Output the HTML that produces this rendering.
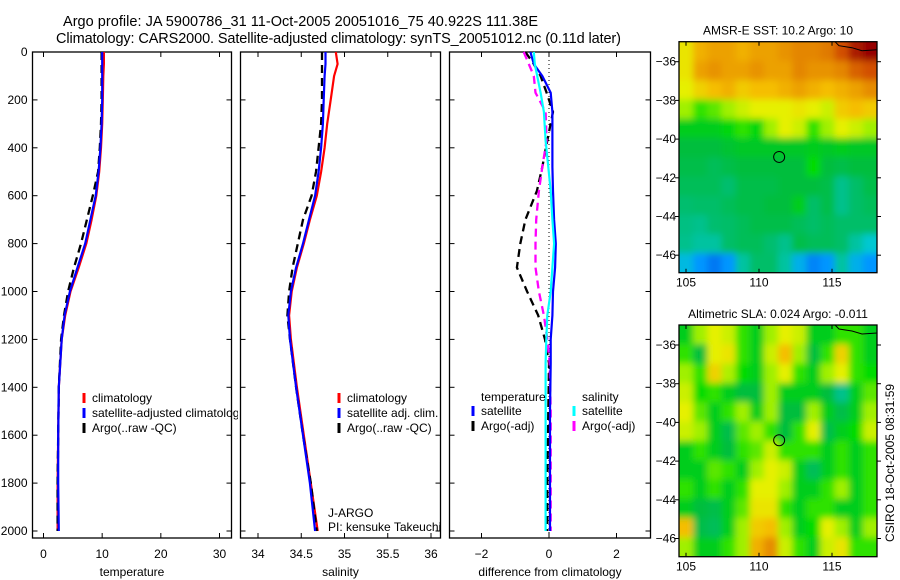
<!DOCTYPE html>
<html><head><meta charset="utf-8">
<style>
html,body{margin:0;padding:0;background:#fff;}
svg{display:block;font-family:"Liberation Sans",sans-serif;}
text{fill:#000;}
</style></head>
<body>
<svg id="fig" width="900" height="580" viewBox="0 0 900 580" xmlns="http://www.w3.org/2000/svg">
<defs>
<filter id="blur" x="-10%" y="-10%" width="120%" height="120%"><feGaussianBlur stdDeviation="3.5"/></filter>
</defs>
<text x="63" y="26" font-size="14.5" textLength="475">Argo profile: JA 5900786_31 11-Oct-2005 20051016_75 40.922S 111.38E</text>
<text x="56" y="43" font-size="14.5" textLength="565">Climatology: CARS2000. Satellite-adjusted climatology: synTS_20051012.nc (0.11d later)</text>
</svg>
<script>
// ---------- data ----------
const depths = [0,50,100,200,300,400,500,600,700,800,900,1000,1100,1200,1400,1600,1800,2000];
const tempClim = [10.3,10.3,10.2,10.1,10.0,9.8,9.5,9.0,8.2,7.3,6.0,4.6,3.7,3.1,2.6,2.5,2.4,2.4];
const tempSat  = [10.0,10.0,10.0,10.0,9.9,9.7,9.4,8.9,8.0,7.1,5.8,4.5,3.6,3.1,2.6,2.5,2.5,2.6];
const tempArgo = [9.9,9.9,9.9,9.9,9.8,9.6,9.3,8.4,7.4,6.4,5.2,4.2,3.5,3.0,2.6,2.5,2.4,2.4];
const salClim = [34.90,34.92,34.88,34.84,34.80,34.77,34.73,34.68,34.60,34.53,34.45,34.39,34.36,34.38,34.45,34.53,34.61,34.69];
const salSat  = [34.78,34.78,34.77,34.76,34.75,34.73,34.70,34.66,34.59,34.52,34.44,34.38,34.35,34.37,34.44,34.52,34.60,34.66];
const salArgo = [34.74,34.74,34.74,34.74,34.73,34.70,34.67,34.62,34.52,34.46,34.40,34.36,34.34,34.37,34.44,34.52,34.61,34.68];
const diffDepths = [0,50,100,170,250,370,480,580,700,800,900,1000,1100,1200,1300,1500,1800,2000];
const diffTempSat  = [-0.55,-0.45,-0.2,0.05,0.1,0.1,0.1,0.12,0.15,0.2,0.18,0.12,0.1,0.05,0.05,0.03,0.03,0.03];
const diffTempArgo = [-0.7,-0.45,-0.25,-0.07,0.12,-0.05,-0.2,-0.36,-0.7,-0.85,-0.95,-0.65,-0.32,-0.12,0,-0.02,-0.05,-0.05];
const diffSalSat   = [-0.45,-0.42,-0.35,-0.25,-0.15,-0.1,-0.02,0.05,0.1,0.15,0.1,0.05,-0.05,-0.08,-0.1,-0.1,-0.1,-0.1];
const diffSalArgo  = [-0.75,-0.6,-0.45,-0.4,-0.1,-0.07,-0.2,-0.3,-0.38,-0.4,-0.4,-0.3,-0.15,-0.05,0.02,0.05,0.05,0.05];
const depthTicks = [0,200,400,600,800,1000,1200,1400,1600,1800,2000];
const tempTicks = [0,10,20,30];
const salTicks = [34,34.5,35,35.5,36];
const diffTicks = [-2,0,2];
const lonTicks = [105,110,115];
const latTicks = [-36,-38,-40,-42,-44,-46];
const argoLon = 111.38, argoLat = -40.922;
const sstGrid = [
[0.62,0.7,0.72,0.72,0.7,0.72,0.72,0.74,0.76,0.76,0.78,0.85,0.95,1],
[0.62,0.72,0.74,0.72,0.72,0.74,0.72,0.72,0.76,0.74,0.74,0.76,0.82,0.85],
[0.6,0.65,0.68,0.7,0.66,0.68,0.68,0.7,0.72,0.7,0.68,0.7,0.72,0.75],
[0.55,0.5,0.52,0.55,0.58,0.6,0.6,0.6,0.62,0.6,0.58,0.66,0.68,0.66],
[0.45,0.45,0.45,0.47,0.5,0.47,0.55,0.6,0.58,0.5,0.55,0.6,0.58,0.55],
[0.42,0.42,0.42,0.43,0.44,0.44,0.44,0.44,0.44,0.45,0.44,0.45,0.44,0.44],
[0.4,0.4,0.38,0.4,0.42,0.42,0.42,0.42,0.42,0.48,0.42,0.4,0.42,0.42],
[0.38,0.38,0.38,0.35,0.4,0.4,0.4,0.42,0.42,0.42,0.4,0.32,0.36,0.4],
[0.35,0.36,0.36,0.38,0.4,0.4,0.42,0.42,0.45,0.36,0.4,0.32,0.36,0.38],
[0.33,0.32,0.35,0.36,0.38,0.4,0.4,0.4,0.38,0.36,0.38,0.36,0.36,0.36],
[0.32,0.3,0.3,0.36,0.38,0.38,0.35,0.32,0.4,0.38,0.38,0.36,0.3,0.25],
[0.22,0.15,0.1,0.15,0.3,0.36,0.36,0.3,0.2,0.12,0.15,0.3,0.2,0.15]];
const slaGrid = [
[0.45,0.55,0.6,0.58,0.5,0.45,0.55,0.6,0.58,0.45,0.45,0.5,0.5,0.45],
[0.5,0.42,0.6,0.62,0.5,0.45,0.58,0.68,0.55,0.42,0.5,0.65,0.5,0.45],
[0.55,0.5,0.65,0.56,0.48,0.45,0.55,0.6,0.5,0.45,0.55,0.6,0.5,0.48],
[0.58,0.48,0.5,0.45,0.42,0.42,0.55,0.45,0.45,0.45,0.42,0.32,0.45,0.52],
[0.6,0.52,0.45,0.5,0.55,0.45,0.55,0.42,0.42,0.55,0.45,0.4,0.45,0.55],
[0.58,0.55,0.45,0.4,0.52,0.55,0.5,0.42,0.5,0.6,0.4,0.45,0.48,0.58],
[0.45,0.5,0.45,0.42,0.5,0.52,0.58,0.5,0.5,0.5,0.45,0.5,0.45,0.5],
[0.45,0.45,0.52,0.5,0.45,0.55,0.6,0.58,0.45,0.38,0.45,0.5,0.45,0.5],
[0.5,0.45,0.5,0.45,0.5,0.6,0.6,0.55,0.45,0.45,0.5,0.55,0.45,0.5],
[0.45,0.42,0.4,0.45,0.52,0.62,0.62,0.5,0.45,0.5,0.5,0.45,0.45,0.5],
[0.68,0.4,0.38,0.45,0.55,0.66,0.68,0.55,0.45,0.48,0.6,0.55,0.45,0.55],
[0.55,0.45,0.45,0.5,0.55,0.7,0.75,0.58,0.5,0.45,0.58,0.62,0.5,0.5]];

// ---------- helpers ----------
const NS = "http://www.w3.org/2000/svg";
const svg = document.getElementById('fig');
function mk(tag, attrs, parent){
  const e = document.createElementNS(NS, tag);
  for (const k in attrs) e.setAttribute(k, attrs[k]);
  (parent||svg).appendChild(e);
  return e;
}
const PT = 52, PB = 538;
const yDepth = d => PT + d * 0.2395;
function linScale(d0,d1,r0,r1){ return v => r0 + (v-d0)/(d1-d0)*(r1-r0); }

const cstops = [[0,[0,60,220]],[0.15,[0,150,255]],[0.25,[0,200,210]],[0.35,[0,190,110]],[0.42,[0,190,60]],[0.48,[0,220,0]],[0.55,[160,240,0]],[0.6,[230,240,0]],[0.68,[245,190,0]],[0.75,[230,140,0]],[0.85,[210,80,0]],[1,[150,0,0]]];
function cmap(v){
  for (let i=1;i<cstops.length;i++){
    if (v<=cstops[i][0]){
      const [a,ca]=cstops[i-1],[b,cb]=cstops[i];
      const t=(v-a)/(b-a);
      return 'rgb('+ca.map((c,j)=>Math.round(c+(cb[j]-c)*t)).join(',')+')';
    }
  }
  return 'rgb(150,0,0)';
}

function drawPanel(name, x0, x1, xs, ticks, tickFmt, xlabel, showY){
  const g = mk('g', {});
  
  
  const fr = mk('rect', {x:x0, y:PT, width:x1-x0, height:PB-PT, fill:'none', stroke:'#000', 'stroke-width':1.3}, g);
  
  
  ticks.forEach(t => {
    const x = xs(t);
    mk('line',{x1:x,y1:PT,x2:x,y2:PT+5,stroke:'#000'},g);
    mk('line',{x1:x,y1:PB,x2:x,y2:PB-5,stroke:'#000'},g);
    const tl = mk('text',{x:x,y:PB+20,'font-size':12,'text-anchor':'middle'},g);
    tl.textContent = tickFmt(t);
    
    
  });
  depthTicks.forEach(d => {
    const y = yDepth(d);
    mk('line',{x1:x0,y1:y,x2:x0+5,y2:y,stroke:'#000'},g);
    mk('line',{x1:x1,y1:y,x2:x1-5,y2:y,stroke:'#000'},g);
    if (showY){
      const yl = mk('text',{x:x0-5,y:y+4,'font-size':12,'text-anchor':'end'},g);
      yl.textContent = d;
      
      
    }
  });
  const xl = mk('text',{x:(x0+x1)/2,y:576,'font-size':12,'text-anchor':'middle'},g);
  xl.textContent = xlabel;
  
  
  return g;
}
function drawLine(g, name, xs, vals, ds, color, dash, w){
  const pts = vals.map((v,i)=> xs(v).toFixed(1)+','+yDepth(ds[i]).toFixed(1)).join(' ');
  const a = {points:pts, fill:'none', stroke:color, 'stroke-width':w||2.2, 'stroke-linejoin':'round'};
  if (dash) a['stroke-dasharray'] = dash;
  const p = mk('polyline', a, g);
  
  
}
function legendEntry(g, name, x, y, color, label){
  const m = mk('line',{x1:x,y1:y-9,x2:x,y2:y+1,stroke:color,'stroke-width':3},g);
  
  
  const t = mk('text',{x:x+8,y:y,'font-size':12},g);
  t.textContent = label;
  
  
}

// ---------- panel 1: temperature ----------
const xT = linScale(0,30,43.5,219.5);
const g1 = drawPanel('temperature', 32.5, 231.5, xT, tempTicks, t=>t, 'temperature', true);
drawLine(g1,'temperature-climatology-line',xT,tempClim,depths,'#f00');
drawLine(g1,'temperature-argo-line',xT,tempArgo,depths,'#000','8,5',2.3);
drawLine(g1,'temperature-satellite-line',xT,tempSat,depths,'#00f');
const clip1 = mk('clipPath',{id:'c1'}); mk('rect',{x:0,y:0,width:238,height:580},clip1);
const lg1 = mk('g',{'clip-path':'url(#c1)'},g1);


legendEntry(lg1,'legend-climatology',84,402,'#f00','climatology');
legendEntry(lg1,'legend-satellite-adjusted',84,417,'#00f','satellite-adjusted climatology');
legendEntry(lg1,'legend-argo',84,432,'#000','Argo(..raw -QC)');

// ---------- panel 2: salinity ----------
const xS = linScale(34,36,258,431);
const g2 = drawPanel('salinity', 240.5, 440.5, xS, salTicks, t=>t, 'salinity', false);
drawLine(g2,'salinity-climatology-line',xS,salClim,depths,'#f00');
drawLine(g2,'salinity-argo-line',xS,salArgo,depths,'#000','8,5',2.3);
drawLine(g2,'salinity-satellite-line',xS,salSat,depths,'#00f');
legendEntry(g2,'legend-sal-climatology',339,402,'#f00','climatology');
legendEntry(g2,'legend-sal-satellite',339,417,'#00f','satellite adj. clim.');
legendEntry(g2,'legend-sal-argo',339,432,'#000','Argo(..raw -QC)');
const j1 = mk('text',{x:328,y:517,'font-size':12},g2); j1.textContent='J-ARGO';


const j2 = mk('text',{x:328,y:531,'font-size':12},g2); j2.textContent='PI: kensuke Takeuchi';



// ---------- panel 3: difference ----------
const xD = linScale(-2,2,481.5,616.5);
const g3 = drawPanel('difference', 449.5, 650.5, xD, diffTicks, t=>t===-2?'\u22122':t, 'difference from climatology', false);
const zl = mk('line',{x1:xD(0),y1:PT,x2:xD(0),y2:PB,stroke:'#000','stroke-dasharray':'1,3'},g3);


drawLine(g3,'diff-temperature-argo-line',xD,diffTempArgo,diffDepths,'#000','8,5',2.3);
drawLine(g3,'diff-salinity-argo-line',xD,diffSalArgo,diffDepths,'#f0f','8,5',2.3);
drawLine(g3,'diff-temperature-satellite-line',xD,diffTempSat,diffDepths,'#00f');
drawLine(g3,'diff-salinity-satellite-line',xD,diffSalSat,diffDepths,'#0ff');
const lh1 = mk('text',{x:481,y:401,'font-size':12},g3); lh1.textContent='temperature';


const lh2 = mk('text',{x:582,y:401,'font-size':12},g3); lh2.textContent='salinity';


legendEntry(g3,'legend-diff-temp-satellite',473,415,'#00f','satellite');
legendEntry(g3,'legend-diff-temp-argo',473,430,'#000','Argo(-adj)');
legendEntry(g3,'legend-diff-sal-satellite',574,415,'#0ff','satellite');
legendEntry(g3,'legend-diff-sal-argo',574,430,'#f0f','Argo(-adj)');

// ---------- maps ----------
function drawMap(name, top, bottom, grid, title){
  const L=679, R=877;
  const xl = linScale(105,115,686,832);
  const yl = linScale(-36,-46,top+20,top+213.5);
  const g = mk('g',{});
  
  
  const cp = mk('clipPath',{id:name+'-clip'});
  mk('rect',{x:L,y:top,width:R-L,height:bottom-top},cp);
  const cg = mk('g',{'clip-path':'url(#'+name+'-clip)'},g);
  const bg = mk('g',{filter:'url(#blur)'},cg);
  const rows = grid.length, cols = grid[0].length;
  const cw = (R-L)/cols, ch = (bottom-top)/rows, pad = 12;
  grid.forEach((row,i)=>row.forEach((v,j)=>{
    let x = L+j*cw, y = top+i*ch, w = cw+0.6, h = ch+0.6;
    if (j===0){ x-=pad; w+=pad; }
    if (j===cols-1){ w+=pad; }
    if (i===0){ y-=pad; h+=pad; }
    if (i===rows-1){ h+=pad; }
    const c = mk('rect',{x:x.toFixed(2),y:y.toFixed(2),width:w.toFixed(2),height:h.toFixed(2),fill:cmap(v)},bg);
    
    
  }));
  const coast = mk('polyline',{points:(R-42)+','+top+' '+(R-38)+','+(top+4)+' '+(R-25)+','+(top+6)+' '+(R-15)+','+(top+9)+' '+R+','+(top+8),fill:'none',stroke:'#000','stroke-width':1},g);
  
  
  const fr = mk('rect',{x:L,y:top,width:R-L,height:bottom-top,fill:'none',stroke:'#000','stroke-width':1.3},g);
  
  
  lonTicks.forEach(t=>{
    const x=xl(t);
    mk('line',{x1:x,y1:top,x2:x,y2:top+4,stroke:'#000'},g);
    mk('line',{x1:x,y1:bottom,x2:x,y2:bottom-4,stroke:'#000'},g);
    const tx = mk('text',{x:x,y:bottom+14,'font-size':12,'text-anchor':'middle'},g);
    tx.textContent = t;
    
    
  });
  latTicks.forEach(t=>{
    const y=yl(t);
    mk('line',{x1:L,y1:y,x2:L-4,y2:y,stroke:'#000'},g);
    mk('line',{x1:R,y1:y,x2:R+4,y2:y,stroke:'#000'},g);
    const ty = mk('text',{x:L-3,y:y+4,'font-size':12,'text-anchor':'end'},g);
    ty.textContent = '\u2212'+(-t);
    
    
  });
  const ci = mk('circle',{cx:xl(argoLon),cy:yl(argoLat),r:5.5,fill:'none',stroke:'#000','stroke-width':1},g);
  
  
  const tt = mk('text',{x:778,y:top-7,'font-size':12,'text-anchor':'middle'},g);
  tt.textContent = title;
  
  
}
drawMap('sst-map', 41.7, 272.7, sstGrid, 'AMSR-E SST: 10.2 Argo: 10');
drawMap('sla-map', 325, 556.7, slaGrid, 'Altimetric SLA: 0.024 Argo: -0.011');
const stamp = mk('text',{x:894,y:463,'font-size':12,'text-anchor':'middle',transform:'rotate(-90 894 463)'});
stamp.textContent = 'CSIRO 18-Oct-2005 08:31:59';


</script>
</body></html>
